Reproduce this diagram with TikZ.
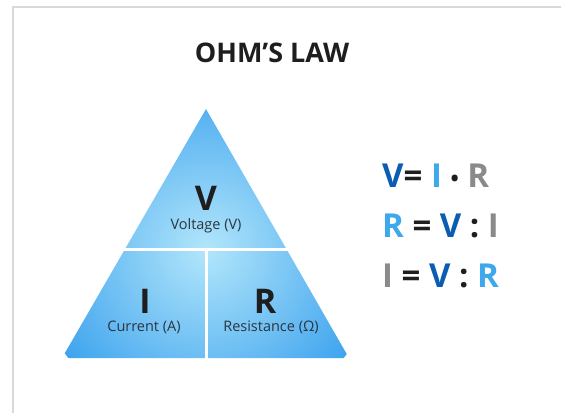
\documentclass[tikz,border=0pt]{standalone}
\usepackage{fontspec}
\setmainfont{Open Sans}
\definecolor{frame}{HTML}{D9D9D9}
\definecolor{skylight}{HTML}{B2E6FB}
\definecolor{skydark}{HTML}{3FA4EE}
\definecolor{ink}{HTML}{1E1E1E}
\definecolor{labelink}{HTML}{2A3640}
\definecolor{vblue}{HTML}{0B5DB2}
\definecolor{iblue}{HTML}{3DA8EC}
\definecolor{rgray}{HTML}{8A8A8A}
\begin{document}
\begin{tikzpicture}[x=1pt, y=-1pt, every node/.style={inner sep=0pt}, big/.style={font=\fontsize{34}{34}\selectfont\bfseries, text=ink}, small/.style={font=\fontsize{14.5}{15}\selectfont, text=labelink}, formula/.style={font=\fontsize{33}{33}\selectfont\bfseries, anchor=west}]
        \useasboundingbox (0,0) rectangle (561,413);
        \draw[frame, line width=2pt] (12.5,413) -- (12.5,6.5) -- (561,6.5);
        \node[font=\fontsize{27}{27}\selectfont\bfseries, text=ink] (title) at (272,53) {OHM'S LAW};
        % triangle with radial shading
        \begin{scope}
            \clip (206,109) -- (349,358) -- (62,358) -- cycle;
            \shade[inner color=skylight, outer color=skydark] (206,250) circle (175);
        \end{scope}
        \draw[white, line width=3pt] (100,249) -- (310,249);
        \draw[white, line width=3pt] (206,249) -- (206,360);
        \node[big] (V) at (206,198) {V};
        \node[small] (volt) at (206,226) {Voltage (V)};
        \node[big] (I) at (145,301) {I};
        \node[small] (curr) at (144,327) {Current (A)};
        \node[big] (R) at (265,301) {R};
        \node[small] (res) at (271,327) {Resistance (Ω)};
        \node[formula] (eq1) at (382,176) {\textcolor{vblue}{V}\textcolor{ink}{=} \textcolor{iblue}{I} \textcolor{ink}{\fontsize{22}{22}\selectfont\raisebox{1pt}{•}} \textcolor{rgray}{R}};
        \node[formula] (eq2) at (382,226) {\textcolor{iblue}{R} \textcolor{ink}{=} \textcolor{vblue}{V} \textcolor{ink}{:} \textcolor{rgray}{I}};
        \node[formula] (eq3) at (382,276) {\textcolor{rgray}{I} \textcolor{ink}{=} \textcolor{vblue}{V} \textcolor{ink}{:} \textcolor{iblue}{R}};
    \end{tikzpicture}
\end{document}
